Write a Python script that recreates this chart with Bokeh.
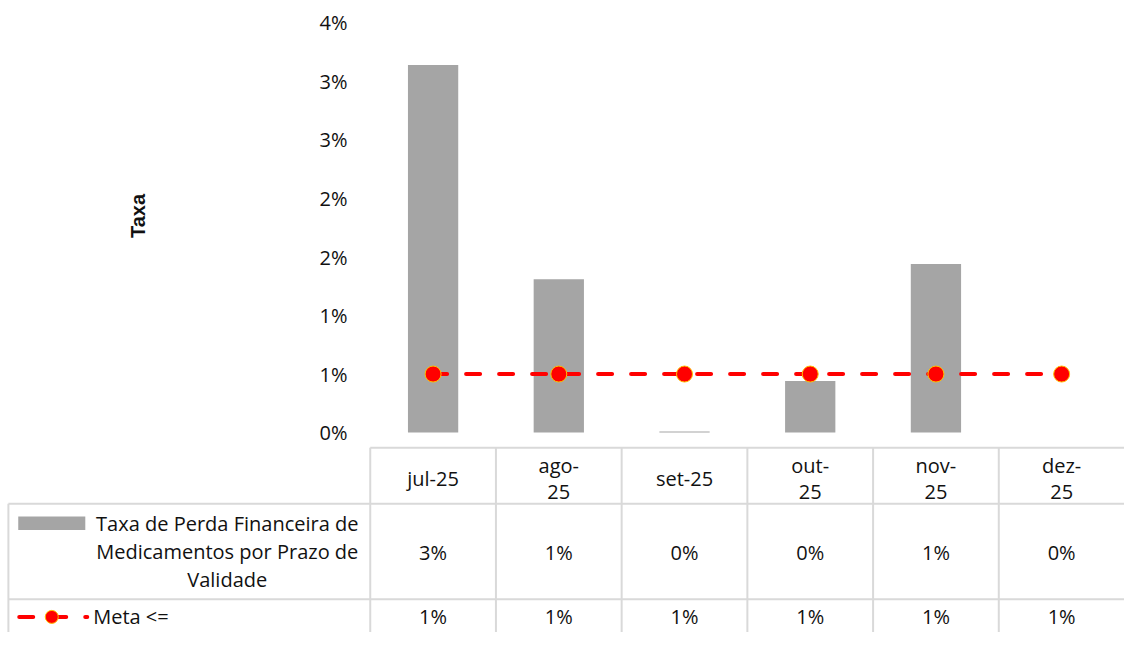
import math
from bokeh.plotting import figure
from bokeh.models import Range1d
from bokeh.core.properties import value
from bokeh.embed import file_html
from bokeh.resources import INLINE

# ---------------- data ----------------
categories = ["jul-25", "ago-25", "set-25", "out-25", "nov-25", "dez-25"]
header_labels = ["jul-25", "ago-\n25", "set-25", "out-\n25", "nov-\n25", "dez-\n25"]
taxa = [0.0314, 0.0131, 0.0001, 0.0044, 0.0144, 0.0]
meta = [0.005, 0.005, 0.005, 0.005, 0.005, 0.005]
y_ticks = [0.0, 0.005, 0.01, 0.015, 0.02, 0.025, 0.03, 0.035]
series_taxa = "Taxa de Perda Financeira de Medicamentos por Prazo de Validade"
series_taxa_wrapped = "Taxa de Perda Financeira de\nMedicamentos por Prazo de\nValidade"
series_meta = "Meta <="
y_axis_title = "Taxa"


def pct(v):
    return f"{math.floor(v * 100 + 0.5 + 1e-9):d}%"


# ---------------- layout ----------------
W, H = 1124, 632
REF_W, REF_H = 1140, 648
COL0, COLW = 375.0, 127.5
ZERO_Y, PX_PER_UNIT = 443.0, 12000.0


def X(px):
    return (px - COL0) / COLW


def Y(py):
    return (ZERO_Y - py) / PX_PER_UNIT


FONT = value("Open Sans")
FS = "20px"
TXT = "#111111"
GRID = "#D9D9D9"
BAR = "#A5A5A5"
RED = "#FF0000"

p = figure(width=W, height=H,
           x_range=Range1d(X(0), X(REF_W)), y_range=Range1d(Y(REF_H), Y(0)),
           output_backend="svg", toolbar_location=None, min_border=0)
p.xaxis.visible = False
p.yaxis.visible = False
p.grid.visible = False
p.outline_line_color = None
p.background_fill_color = "white"
p.border_fill_color = "white"

n = len(categories)
centers = [i + 0.5 for i in range(n)]

# bars
p.vbar(x=centers, top=taxa, bottom=0, width=0.4, fill_color=BAR, line_color=None)

# meta line
p.line(centers, meta, line_color=RED, line_width=4, line_dash="14 19", line_cap="round")
p.scatter(centers, meta, size=16, fill_color=RED, line_color="#FFC000", line_width=1)

# y tick labels
p.text(x=[X(352)] * len(y_ticks), y=y_ticks, text=[pct(t) for t in y_ticks],
       text_align="right", text_baseline="middle", text_font=FONT,
       text_font_size=FS, text_color=TXT)

# y axis title
p.text(x=[X(139)], y=[Y(221)], text=[y_axis_title], angle=math.pi / 2,
       text_align="center", text_baseline="middle",
       text_font=value("Liberation Sans"), text_font_style="bold",
       text_font_size="20px", text_color=TXT)

# ---------------- data table ----------------
r0, r1, r2, r3 = 458.5, 516.0, 614.0, 648.0
x0s, y0s, x1s, y1s = [], [], [], []
# horizontal rules
for (xa, yy) in [(COL0, r0), (8, r1), (8, r2)]:
    x0s.append(X(xa)); x1s.append(X(REF_W)); y0s.append(Y(yy)); y1s.append(Y(yy))
# left border of legend column
x0s.append(X(8)); x1s.append(X(8)); y0s.append(Y(r1)); y1s.append(Y(r3))
# column separators
for k in range(n):
    x0s.append(k); x1s.append(k); y0s.append(Y(r0)); y1s.append(Y(r3))
p.segment(x0=x0s, y0=y0s, x1=x1s, y1=y1s, line_color=GRID, line_width=2)

# header row
p.text(x=centers, y=[Y(490)] * n, text=header_labels, text_align="center",
       text_baseline="middle", text_font=FONT, text_font_size=FS,
       text_color=TXT, text_line_height=0.95)
# taxa row
p.text(x=centers, y=[Y(566)] * n, text=[pct(v) for v in taxa], text_align="center",
       text_baseline="middle", text_font=FONT, text_font_size=FS, text_color=TXT)
# meta row
p.text(x=centers, y=[Y(632)] * n, text=[pct(v) for v in meta], text_align="center",
       text_baseline="middle", text_font=FONT, text_font_size=FS, text_color=TXT)

# legend keys
p.quad(left=[X(18)], right=[X(86)], bottom=[Y(543)], top=[Y(529)],
       fill_color=BAR, line_color=None)
p.text(x=[X(230)], y=[Y(565)], text=[series_taxa_wrapped], text_align="center",
       text_baseline="middle", text_font=FONT, text_font_size=FS,
       text_color=TXT, text_line_height=1.05)

p.line([X(19), X(88)], [Y(632), Y(632)], line_color=RED, line_width=4,
       line_dash="14 19", line_cap="round")
p.scatter([X(52)], [Y(632)], size=13, fill_color=RED, line_color="#FFC000", line_width=1)
p.text(x=[X(94)], y=[Y(632)], text=[series_meta], text_align="left",
       text_baseline="middle", text_font=FONT, text_font_size=FS, text_color=TXT)

open("out.html", "w").write(file_html(p, INLINE))
